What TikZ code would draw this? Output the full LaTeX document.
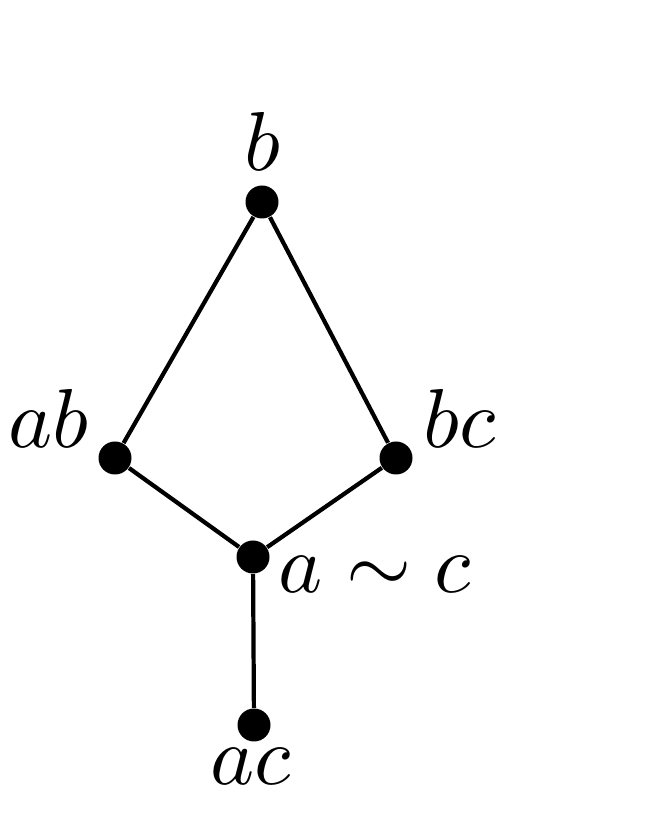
\documentclass[tikz,border=0pt]{standalone}
\usepackage{tikz}

\begin{document}
\begin{tikzpicture}[
	vertex/.style={circle, fill=black, inner sep=0, minimum size=0.33cm},
	vlabel/.style={inner sep=0, scale=2.38, transform shape}
]
	\definecolor{cEdge}{HTML}{000000}

	\useasboundingbox (0,0) rectangle (6.65,8.17);

	\node[vertex] (b) at (2.62,6.15) {};
	\node[vertex] (ab) at (1.15,3.59) {};
	\node[vertex] (bc) at (3.96,3.59) {};
	\node[vertex] (asimc) at (2.53,2.60) {};
	\node[vertex] (ac) at (2.54,0.92) {};

	\draw[cEdge, line width=1.2pt] (b) -- (ab) -- (asimc) -- (bc) -- (b);
	\draw[cEdge, line width=1.2pt] (asimc) -- (ac);

	\node[vlabel, anchor=base] (bLabel) at (2.62,6.46) {$b$};
	\node[vlabel, anchor=base east] (abLabel) at (0.90,3.69) {$ab$};
	\node[vlabel, anchor=base west] (bcLabel) at (4.22,3.69) {$bc$};
	\node[vlabel, anchor=base west] (asimcLabel) at (2.77,2.24) {$a\sim c$};
	\node[vlabel, anchor=base] (acLabel) at (2.51,0.32) {$ac$};
\end{tikzpicture}
\end{document}
